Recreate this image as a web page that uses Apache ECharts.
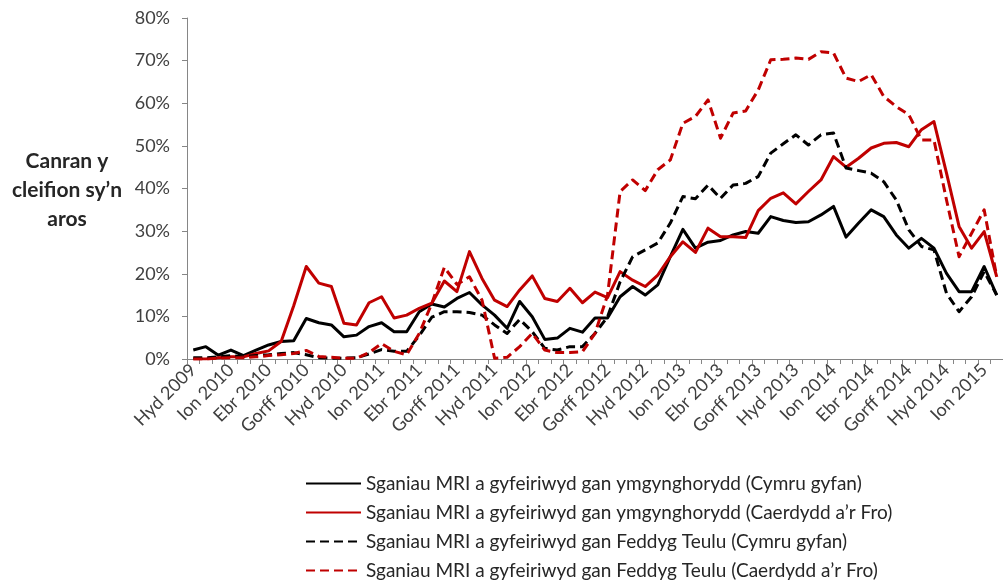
<!DOCTYPE html>
<html>
<head>
<meta charset="utf-8">
<script src="https://cdn.jsdelivr.net/npm/echarts@6/dist/echarts.min.js"></script>
<style>
  html, body { margin: 0; padding: 0; background: #ffffff; }
  #chart { width: 1003px; height: 582px; }
</style>
</head>
<body>
<div id="chart"></div>
<script>
// Months from Hyd 2009 to Chwef 2015
const months = [
  'Hyd 2009','Tach 2009','Rhag 2009',
  'Ion 2010','Chwef 2010','Maw 2010','Ebr 2010','Mai 2010','Meh 2010','Gorff 2010','Awst 2010','Medi 2010','Hyd 2010','Tach 2010','Rhag 2010',
  'Ion 2011','Chwef 2011','Maw 2011','Ebr 2011','Mai 2011','Meh 2011','Gorff 2011','Awst 2011','Medi 2011','Hyd 2011','Tach 2011','Rhag 2011',
  'Ion 2012','Chwef 2012','Maw 2012','Ebr 2012','Mai 2012','Meh 2012','Gorff 2012','Awst 2012','Medi 2012','Hyd 2012','Tach 2012','Rhag 2012',
  'Ion 2013','Chwef 2013','Maw 2013','Ebr 2013','Mai 2013','Meh 2013','Gorff 2013','Awst 2013','Medi 2013','Hyd 2013','Tach 2013','Rhag 2013',
  'Ion 2014','Chwef 2014','Maw 2014','Ebr 2014','Mai 2014','Meh 2014','Gorff 2014','Awst 2014','Medi 2014','Hyd 2014','Tach 2014','Rhag 2014',
  'Ion 2015','Chwef 2015'
];

// Percentage of patients waiting
const consultantWales = [
  2.1, 2.9, 0.9, 2.1, 0.8, 2.1, 3.3, 4.1, 4.3, 9.5, 8.5, 8.0, 5.2, 5.6, 7.6, 8.5,
  6.4, 6.4, 11.1, 12.9, 12.2, 14.2, 15.6, 12.7, 10.3, 7.2, 13.5, 9.9, 4.6, 4.9, 7.2, 6.3,
  9.6, 9.6, 14.6, 17.0, 15.0, 17.4, 24.0, 30.4, 26.0, 27.4, 27.8, 29.1, 29.9, 29.5, 33.4, 32.5,
  32.0, 32.2, 33.8, 35.8, 28.6, 31.9, 35.0, 33.4, 29.1, 26.0, 28.3, 26.0, 20.1, 15.8, 15.8, 21.7,
  15.0
];
const consultantCardiff = [
  0.0, 0.0, 0.3, 0.5, 0.5, 1.3, 1.9, 4.1, 12.5, 21.7, 17.8, 17.0, 8.4, 8.0, 13.2, 14.6,
  9.6, 10.3, 11.9, 13.1, 18.3, 15.8, 25.2, 18.9, 13.8, 12.3, 16.2, 19.5, 14.2, 13.5, 16.6, 13.2,
  15.7, 14.4, 20.5, 18.5, 17.0, 19.7, 24.0, 27.5, 25.0, 30.7, 28.7, 28.7, 28.5, 34.8, 37.7, 39.0,
  36.4, 39.3, 42.0, 47.5, 45.0, 47.1, 49.5, 50.6, 50.8, 49.8, 53.8, 55.7, 43.6, 31.1, 26.0, 29.9,
  19.3
];
const gpWales = [
  0.3, 0.3, 0.5, 0.8, 0.5, 0.8, 1.0, 1.3, 1.5, 1.0, 0.3, 0.2, 0.2, 0.3, 1.2, 2.2,
  1.8, 1.8, 5.5, 9.8, 11.1, 11.1, 10.9, 10.3, 8.0, 6.0, 9.3, 6.4, 2.5, 2.1, 2.9, 2.9,
  6.0, 9.9, 18.1, 24.0, 25.6, 27.2, 31.9, 38.1, 37.6, 40.8, 37.7, 40.8, 41.2, 42.8, 48.3, 50.5,
  52.6, 50.2, 52.6, 53.0, 44.8, 44.2, 43.6, 41.6, 37.3, 30.3, 26.4, 25.6, 15.4, 11.1, 14.6, 20.5,
  15.0
];
const gpCardiff = [
  0.0, 0.0, 0.2, 0.3, 0.3, 0.5, 0.8, 1.0, 1.3, 2.0, 0.6, 0.4, 0.2, 0.2, 1.5, 3.6,
  1.8, 1.0, 6.0, 13.0, 21.5, 17.5, 19.3, 13.8, 0.2, 0.4, 2.9, 6.0, 2.1, 1.5, 1.5, 1.7,
  6.0, 15.0, 39.3, 42.0, 39.5, 44.4, 46.7, 55.3, 56.9, 60.8, 51.8, 57.7, 58.2, 63.1, 70.2, 70.3,
  70.6, 70.3, 72.1, 71.8, 65.9, 65.1, 66.7, 61.6, 59.2, 57.3, 51.4, 51.4, 37.3, 24.0, 29.5, 35.0,
  19.3
];

const seriesNames = [
  'Sganiau MRI a gyfeiriwyd gan ymgynghorydd (Cymru gyfan)',
  'Sganiau MRI a gyfeiriwyd gan ymgynghorydd (Caerdydd a’r Fro)',
  'Sganiau MRI a gyfeiriwyd gan Feddyg Teulu (Cymru gyfan)',
  'Sganiau MRI a gyfeiriwyd gan Feddyg Teulu (Caerdydd a’r Fro)'
];
const yTitleLines = ['Canran y', 'cleifion sy’n', 'aros'];

const BLACK = '#000000';
const RED = '#C00000';
const FONT = 'Lato, "Open Sans", sans-serif';

function lineSeries(name, data, color, dashed) {
  return {
    name: name,
    type: 'line',
    data: data,
    symbol: 'none',
    smooth: false,
    animation: false,
    itemStyle: { color: color },
    lineStyle: {
      color: color,
      width: 3,
      type: dashed ? [9, 5] : 'solid',
      cap: 'butt',
      join: 'round'
    }
  };
}

const chart = echarts.init(document.getElementById('chart'), null, { renderer: 'canvas' });
chart.setOption({
  backgroundColor: '#ffffff',
  animation: false,
  textStyle: { fontFamily: FONT },
  grid: { left: 187, top: 18, bottom: 223, right: -3, containLabel: false },
  xAxis: {
    type: 'category',
    data: months,
    boundaryGap: true,
    axisLine: { show: true, lineStyle: { color: '#868686', width: 1 } },
    axisTick: { show: true, interval: 0, length: 5, inside: false, lineStyle: { color: '#868686' } },
    axisLabel: {
      interval: 2,
      rotate: 45,
      margin: 8,
      fontSize: 18,
      color: '#404040',
      fontFamily: FONT
    },
    splitLine: { show: false }
  },
  yAxis: {
    type: 'value',
    min: 0,
    max: 80,
    interval: 10,
    axisLine: { show: true, lineStyle: { color: '#868686', width: 1 } },
    axisTick: { show: true, length: 5, lineStyle: { color: '#868686' } },
    axisLabel: {
      formatter: '{value}%',
      margin: 17,
      fontSize: 18,
      color: '#404040',
      fontFamily: FONT
    },
    splitLine: { show: false }
  },
  legend: {
    orient: 'vertical',
    left: 305,
    top: 474,
    padding: 0,
    height: 108,
    itemWidth: 55,
    itemHeight: 14,
    itemGap: 10,
    itemStyle: { opacity: 0, color: 'rgba(0,0,0,0)', borderWidth: 0 },
    textStyle: { fontSize: 19, color: '#262626', fontFamily: FONT },
    data: seriesNames
  },
  graphic: [{
    type: 'text',
    x: 67,
    y: 147,
    style: {
      text: yTitleLines.join('\n'),
      fontFamily: FONT,
      fontSize: 21,
      fontWeight: 'bold',
      fill: '#262626',
      align: 'center',
      textAlign: 'center',
      lineHeight: 29
    }
  }],
  series: [
    lineSeries(seriesNames[0], consultantWales, BLACK, false),
    lineSeries(seriesNames[1], consultantCardiff, RED, false),
    lineSeries(seriesNames[2], gpWales, BLACK, true),
    lineSeries(seriesNames[3], gpCardiff, RED, true)
  ]
});
</script>
</body>
</html>
